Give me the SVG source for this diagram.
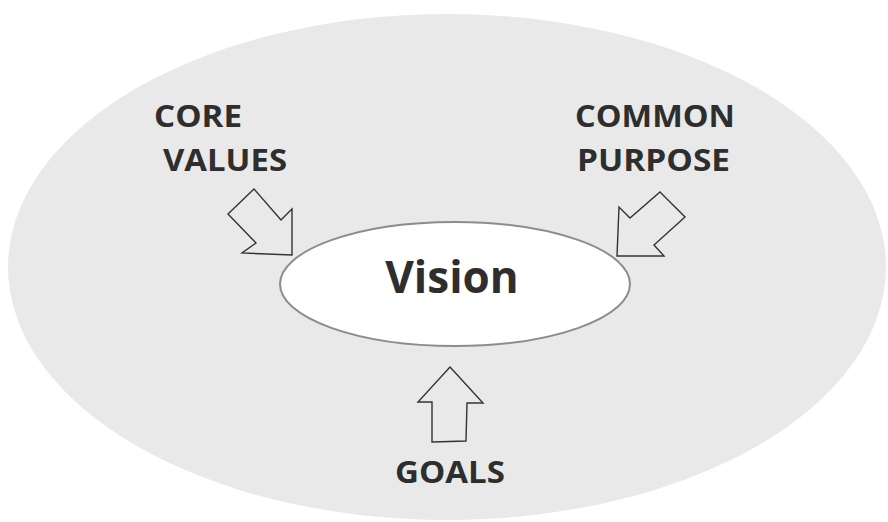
<svg xmlns="http://www.w3.org/2000/svg" width="888" height="522" viewBox="0 0 888 522">
  <style>
    .lbl { font-family: "Open Sans", "Liberation Sans", sans-serif; font-weight: bold; fill: #2e2e2e; }
    .arrow { fill: #e9e9e9; stroke: #333333; stroke-width: 1.4; stroke-linejoin: miter; }
  </style>
  <rect width="888" height="522" fill="#ffffff"/>
  <g id="outer">
    <ellipse cx="447" cy="267" rx="439" ry="253" fill="#e9e9e9"/>
  </g>
  <g id="vision">
    <ellipse cx="455" cy="284" rx="175" ry="62" fill="#ffffff" stroke="#8c8c8c" stroke-width="2"/>
    <text class="lbl" x="452" y="293" font-size="44" text-anchor="middle">Vision</text>
  </g>
  <g id="core-values">
    <text class="lbl" x="154" y="127" font-size="31" textLength="88" lengthAdjust="spacingAndGlyphs">CORE</text>
    <text class="lbl" x="163" y="171" font-size="31" textLength="124" lengthAdjust="spacingAndGlyphs">VALUES</text>
  </g>
  <g id="common-purpose">
    <text class="lbl" x="575" y="127" font-size="31" textLength="160" lengthAdjust="spacingAndGlyphs">COMMON</text>
    <text class="lbl" x="577" y="171" font-size="31" textLength="153" lengthAdjust="spacingAndGlyphs">PURPOSE</text>
  </g>
  <g id="goals">
    <text class="lbl" x="395" y="483" font-size="31" textLength="110" lengthAdjust="spacingAndGlyphs">GOALS</text>
  </g>
  <g id="connectors">
    <polygon class="arrow" points="254,189 228,214 256,243 242,253 292,255 292,209 281,220"/>
    <polygon class="arrow" points="660,192 685,217 654,245 664,256 617,256 619,207 630,218"/>
    <polygon class="arrow" points="450,367 483,403 467,403 466,441 432,442 432,402 418,402"/>
  </g>
</svg>
